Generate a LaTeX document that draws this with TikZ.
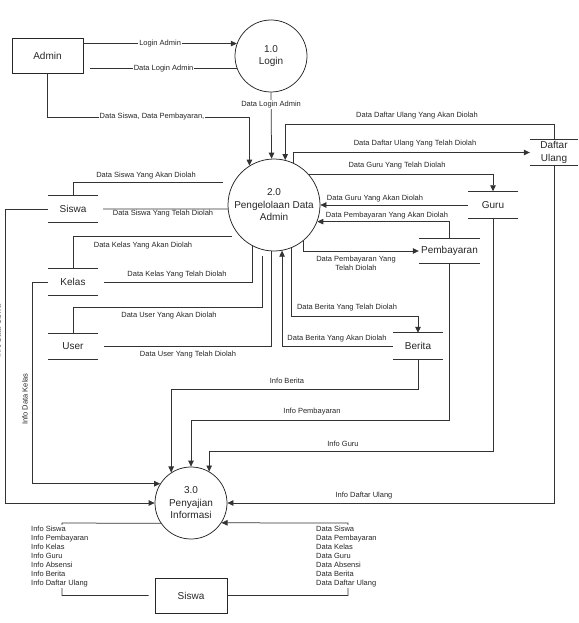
\documentclass[tikz,border=0pt]{standalone}
\usepackage{fontspec}
\setmainfont{Liberation Sans}
\usetikzlibrary{arrows.meta,calc}
\begin{document}
\begin{tikzpicture}[x=1pt,y=-1pt,
  line/.style={draw=black!80, line width=0.75pt},
  arr/.style={line, -{Triangle[length=6pt,width=5.5pt]}},
  proc/.style={circle, draw=black!85, line width=0.75pt, inner sep=0pt, align=center, font=\fontsize{10}{12.5}\selectfont, text=black!85},
  ent/.style={draw=black!85, line width=0.75pt, inner sep=0pt, font=\fontsize{10}{12}\selectfont, text=black!85},
  store/.style={inner sep=0pt, minimum height=26pt, align=center, font=\fontsize{10}{12.5}\selectfont, text=black!85},
  lbl/.style={inner sep=0.5pt, font=\fontsize{7.5}{9}\selectfont, text=black!85},
  lblw/.style={lbl, fill=white, inner sep=1pt}
]
\useasboundingbox (0,0) rectangle (578,623);

% entities and processes
\node[ent, minimum width=71pt, minimum height=35pt] (admin) at (47.5,55.5) {Admin};
\node[proc, minimum size=72pt] (login) at (271,56) {1.0\\Login};
\node[proc, minimum size=92pt] (adm) at (274,205) {2.0\\Pengelolaan Data\\Admin};
\node[proc, minimum size=72pt] (info) at (191,503) {3.0\\Penyajian\\Informasi};
\node[ent, minimum width=72pt, minimum height=35pt] (siswab) at (191,595.5) {Siswa};

% data stores
\node[store, minimum width=50pt] (siswa) at (73,209) {Siswa};
\node[store, minimum width=50pt] (kelas) at (73,282) {Kelas};
\node[store, minimum width=50pt, minimum height=25pt] (user) at (73,346.5) {User};
\node[store, minimum width=50pt, minimum height=27pt] (guru) at (493,205) {Guru};
\node[store, minimum width=61pt, minimum height=25pt] (pemb) at (449.5,251) {Pembayaran};
\node[store, minimum width=50pt] (berita) at (418,346) {Berita};
\node[store, minimum width=48pt, minimum height=25pt] (du) at (554,152.5) {Daftar\\Ulang};
\foreach \s in {siswa,kelas,user,guru,pemb,berita,du}
  \draw[line] (\s.north west) -- (\s.north east) (\s.south west) -- (\s.south east);

% login flows
\draw[arr] (admin.east |- login.160.5) -- node[lblw] (l1) {Login Admin} (login.160.5);
\draw[line] (login.-160.5) -- node[lblw] (l2) {Data Login Admin} ($(admin.east |- login.-160.5)+(7,0)$);
\draw[arr] (login.south) -- node[lblw, pos=0.19] (l3) {Data Login Admin} (adm.93.7);
\draw[arr] (admin.south) |- (adm.122.9 |- 0,117) -- (adm.122.9);
\node[lblw] (l4) at (152,117) {Data Siswa, Data Pembayaran,};

% right side flows
\draw[arr] (du.north) |- (adm.76.2 |- 0,124) -- (adm.76.2);
\node[lbl] (l5) at (417,116) {Data Daftar Ulang Yang Akan Diolah};
\draw[arr] (adm.65.6) |- (du.west);
\node[lbl] (l6) at (415,144) {Data Daftar Ulang Yang Telah Diolah};
\draw[arr] (adm.42.4) -| (guru.north);
\node[lbl] (l7) at (397,166) {Data Guru Yang Telah Diolah};
\draw[arr] (guru.west) -- (adm.east);
\node[lbl] (l8) at (375,199) {Data Guru Yang Akan Diolah};
\draw[arr] (pemb.north) |- (adm.-21.7);
\node[lbl] (l9) at (387,216) {Data Pembayaran Yang Akan Diolah};
\draw[arr] (adm.-50.9) |- (pemb.west);
\node[lbl, align=center] (l10) at (356,263.5) {Data Pembayaran Yang\\Telah Diolah};
\draw[arr] (adm.-68.3) |- (berita.north |- 0,316) -- (berita.north);
\node[lbl] (l11) at (347,308) {Data Berita Yang Telah Diolah};
\draw[arr] (berita.west) -| (adm.-80);
\node[lbl] (l12) at (337,339) {Data Berita Yang Akan Diolah};

% left side flows
\draw[line] (siswa.north) |- (223,182);
\node[lbl] (l13) at (146,176) {Data Siswa Yang Akan Diolah};
\draw[line] ($(siswa.east)+(5,0)$) -- (adm.185);
\node[lbl] (l14) at (163,214) {Data Siswa Yang Telah Diolah};
\draw[line] (kelas.north) |- (232,236);
\node[lbl] (l15) at (143,246) {Data Kelas Yang Akan Diolah};
\draw[line] ($(kelas.east)+(6,0)$) -| (adm.-118.6);
\node[lbl] (l16) at (177,275) {Data Kelas Yang Telah Diolah};
\draw[line] (user.north) |- (262,307) -- (262,256);
\node[lbl] (l17) at (169,316) {Data User Yang Akan Diolah};
\draw[line] ($(user.east)+(6,0)$) -| (adm.-93.7);
\node[lbl] (l18) at (188,355) {Data User Yang Telah Diolah};

% flows into 3.0
\draw[arr] (siswa.west) -| (info.west -| 5,0) -- (info.west);
\node[lbl, rotate=90] (l19) at (-2,331) {Info Data Siswa};
\draw[arr] (kelas.west) -| (info.148.1 -| 32,0) -- (info.148.1);
\node[lbl, rotate=90] (l20) at (25,399) {Info Data Kelas};
\draw[arr] (berita.south) |- (info.123.7 |- 0,389) -- (info.123.7);
\node[lbl] (l21) at (287,381) {Info Berita};
\draw[arr] (pemb.south) |- (info.north |- 0,420.5) -- (info.north);
\node[lbl] (l22) at (312,412) {Info Pembayaran};
\draw[arr] (guru.south) |- (info.60 |- 0,451) -- (info.60);
\node[lbl] (l23) at (343,444) {Info Guru};
\draw[arr] (du.south) |- (info.east);
\node[lbl] (l24) at (364,496) {Info Daftar Ulang};

% bottom flows with Siswa
\draw[arr] (siswab.east) -| (348,523) -- (info.-33.7);
\draw[line] ($(siswab.west)+(-6,0)$) -| (62,523) -- (info.-146.3);
\node[lbl, align=left, anchor=north west, fill=white, inner sep=0pt, inner ysep=1pt] (listinfo) at (31,524.5)
  {Info Siswa\\Info Pembayaran\\Info Kelas\\Info Guru\\Info Absensi\\Info Berita\\Info Daftar Ulang};
\node[lbl, align=left, anchor=north west, fill=white, inner sep=0pt, inner ysep=1pt] (listdata) at (316,524.5)
  {Data Siswa\\Data Pembayaran\\Data Kelas\\Data Guru\\Data Absensi\\Data Berita\\Data Daftar Ulang};
\end{tikzpicture}
\end{document}
